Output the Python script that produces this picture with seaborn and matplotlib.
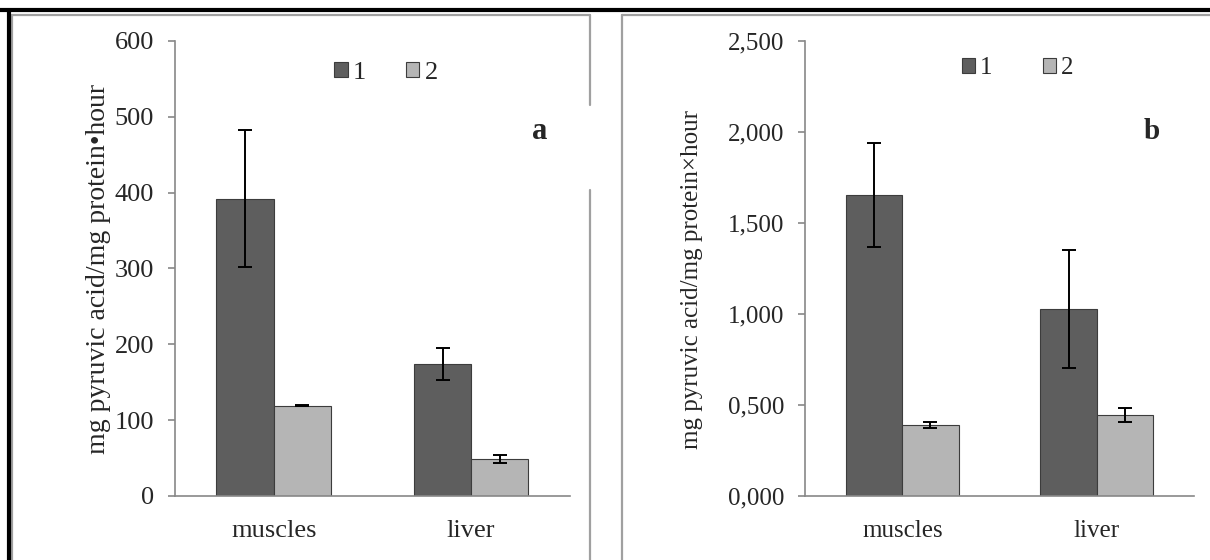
import matplotlib
matplotlib.use("Agg")
import matplotlib.pyplot as plt
import seaborn as sns
import pandas as pd
from matplotlib.lines import Line2D
from matplotlib.patches import Patch
from matplotlib.ticker import FuncFormatter, FixedLocator

tissues = ["muscles", "liver"]
groups = ["1", "2"]

# panel a
a_vals_1 = [392, 174]
a_vals_2 = [119, 49]
a_err_1 = [90, 21]
a_err_2 = [0.5, 5]

# panel b
b_vals_1 = [1.653, 1.027]
b_vals_2 = [0.392, 0.445]
b_err_1 = [0.287, 0.324]
b_err_2 = [0.017, 0.040]

colors = {"1": "#5e5e5e", "2": "#b5b5b5"}

sns.set_theme(style="white")
plt.rcParams["font.family"] = ["Liberation Serif", "DejaVu Serif"]


def make_df(v1, v2, e1, e2):
    rows = []
    for i, t in enumerate(tissues):
        rows.append({"tissue": t, "group": "1", "value": v1[i], "err": e1[i]})
        rows.append({"tissue": t, "group": "2", "value": v2[i], "err": e2[i]})
    return pd.DataFrame(rows)


def draw_panel(ax, df, ymax, yticks, fmt, ylabel, letter, fs, letter_xy, leg_xy, colsp, ylab_xy, ylab_fs):
    sns.barplot(data=df, x="tissue", y="value", hue="group", order=tissues,
                hue_order=groups, palette=colors, width=0.58, errorbar=None,
                edgecolor="#3c3c3c", linewidth=0.8, saturation=1, ax=ax, legend=False)
    # error bars centred on each bar
    for patch in ax.patches:
        h = patch.get_height()
        if h == 0:
            continue
        xc = patch.get_x() + patch.get_width() / 2
        match = df[(df["value"] - h).abs() < 1e-9]
        e = match["err"].iloc[0]
        ax.errorbar(xc, h, yerr=e, color="black", capsize=5, elinewidth=1.4,
                    capthick=1.4, fmt="none")
    ax.set_xlim(-0.5, 1.5)
    ax.set_ylim(0, ymax)
    ax.set_yticks(yticks)
    ax.yaxis.set_major_formatter(FuncFormatter(fmt))
    ax.xaxis.set_minor_locator(FixedLocator([-0.5, 0.5, 1.5]))
    ax.tick_params(axis="x", which="major", length=0, labelsize=fs, pad=17)
    ax.tick_params(axis="x", which="minor", length=5, color="#888888", width=1.2, direction="out")
    ax.tick_params(axis="y", length=5, color="#888888", width=1.2, direction="out",
                   labelsize=fs, pad=10, left=True)
    ax.set_xlabel("")
    ax.set_ylabel(ylabel, fontsize=ylab_fs)
    ax.yaxis.set_label_coords(*ylab_xy)
    for s in ["top", "right"]:
        ax.spines[s].set_visible(False)
    for s in ["left", "bottom"]:
        ax.spines[s].set_color("#888888")
        ax.spines[s].set_linewidth(1.2)
    ax.text(letter_xy[0], letter_xy[1], letter, transform=ax.transAxes,
            fontsize=fs + 3, fontweight="bold", ha="center", va="center")
    handles = [Patch(facecolor=colors[g], edgecolor="#3c3c3c", linewidth=0.8, label=g) for g in groups]
    ax.legend(handles=handles, ncol=2, frameon=False, loc="center",
              bbox_to_anchor=leg_xy, handlelength=0.52, handleheight=0.52,
              handletextpad=0.2, columnspacing=colsp, fontsize=fs,
              borderpad=0, borderaxespad=0)


fig = plt.figure(figsize=(12.1, 5.6), dpi=100)
ax_a = fig.add_axes([0.1446, 0.1143, 0.3264, 0.8125])
ax_b = fig.add_axes([0.6653, 0.1143, 0.3215, 0.8125])

draw_panel(ax_a, make_df(a_vals_1, a_vals_2, a_err_1, a_err_2), 600,
           [0, 100, 200, 300, 400, 500, 600], lambda v, p: f"{v:.0f}",
           "mg pyruvic acid/mg protein\u2022hour", "a", 19, (0.924, 0.802),
           (0.534, 0.93), 1.5, (-0.162, 0.5), 20)
draw_panel(ax_b, make_df(b_vals_1, b_vals_2, b_err_1, b_err_2), 2.5,
           [0, 0.5, 1.0, 1.5, 2.0, 2.5], lambda v, p: f"{v:.3f}".replace(".", ","),
           "mg pyruvic acid/mg protein\u00d7hour", "b", 18, (0.892, 0.802),
           (0.547, 0.94), 2.0, (-0.262, 0.475), 18)

# panel frames
W, H = 1210, 560
def fx(px):
    return px / W
def fy(py):
    return 1 - py / H

grey = "#a0a0a0"
frame = [
    ((12, 12), (15, 560)),
    ((12, 590), (15, 15)),
    ((590, 590), (15, 105)),
    ((590, 590), (190, 560)),
    ((622, 622), (15, 560)),
    ((622, 1210), (15, 15)),
]
for xs, ys in frame:
    fig.add_artist(Line2D([fx(x) for x in xs], [fy(y) for y in ys], color=grey, lw=1.6))
fig.add_artist(Line2D([0, 1], [fy(10), fy(10)], color="black", lw=3))
fig.add_artist(Line2D([fx(9), fx(9)], [fy(10), 0], color="black", lw=3))

fig.savefig("out.png", dpi=100)
